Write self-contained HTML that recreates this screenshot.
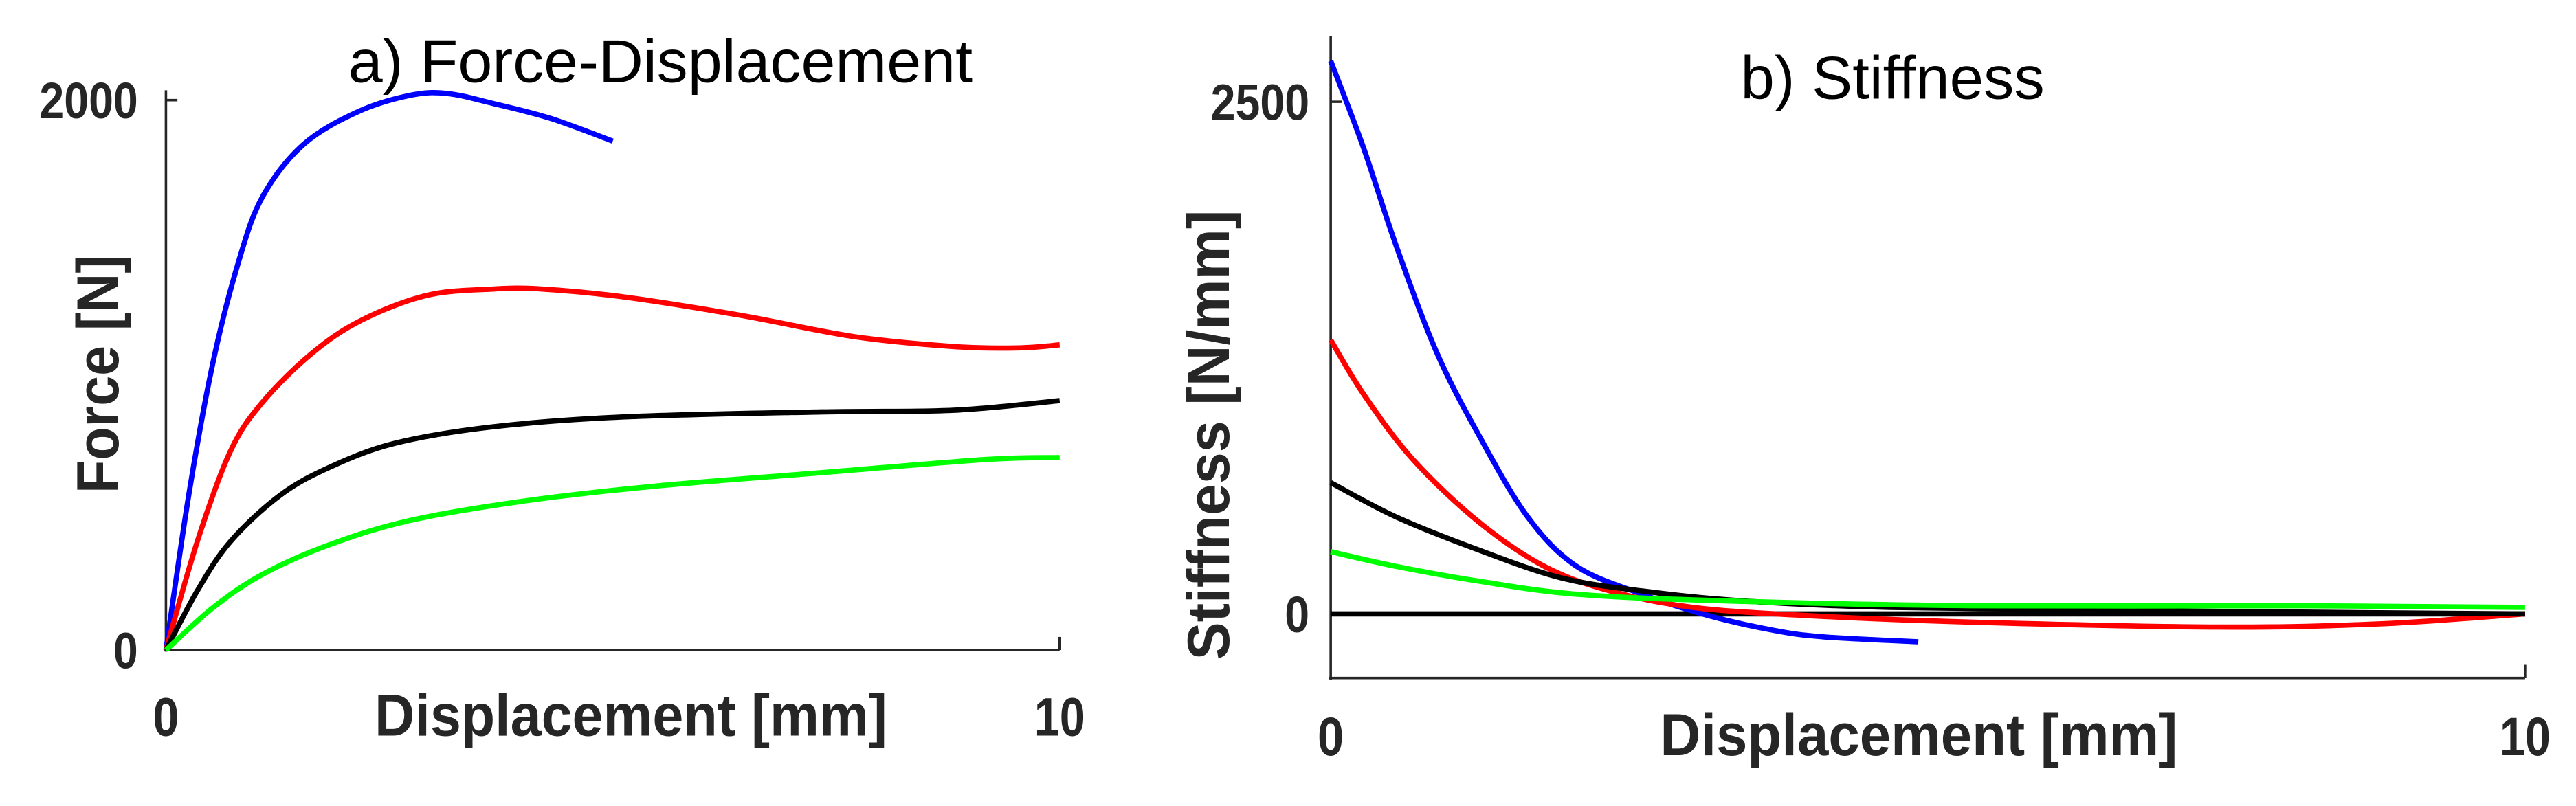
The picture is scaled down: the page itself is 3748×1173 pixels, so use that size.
<!DOCTYPE html>
<html><head><meta charset="utf-8"><style>
html,body{margin:0;padding:0;background:#fff;}
svg{display:block;}
text{font-family:"Liberation Sans",sans-serif;fill:#262626;}
</style></head><body>
<svg id="fig" width="3748" height="1173" viewBox="0 0 1568 491" preserveAspectRatio="none" xmlns="http://www.w3.org/2000/svg">
<g id="left"></g>
<g id="right"></g>
</svg>
<script>
// Panel a) Force-Displacement (x in mm, y in N)
const aBlueX=[0,0.26,0.53,0.81,1.08,1.54,2.15,2.74,3.15,3.66,4.30,5.0];
const aBlueY=[0,573,1051,1409,1648,1839,1958,2018,2024,1988,1934,1851];
const aRedX=[0,0.35,0.72,1.08,1.64,2.19,2.92,3.66,4.21,5.13,6.42,7.70,8.81,9.54,10];
const aRedY=[0,394,722,901,1081,1200,1290,1313,1313,1284,1218,1140,1104,1099,1110];
const aBlackX=[0,0.35,0.72,1.27,1.82,2.56,3.66,5.13,7.33,8.81,10];
const aBlackY=[0,215,394,561,663,752,812,848,866,872,907];
const aGreenX=[0,0.53,1.08,1.82,2.74,4.03,5.5,7.33,9.17,10];
const aGreenY=[0,155,275,382,472,543,597,645,693,700];
// Panel b) Stiffness (x in mm, y in N/mm)
const bBlueX=[0,0.275,0.55,0.89,1.24,1.65,2.06,2.61,3.16,3.71,4.13,4.92];
const bBlueY=[2700,2275,1794,1273,873,473,232,96,-8,-80,-112,-136];
const bRedX=[0,0.275,0.69,1.24,1.79,2.34,3.03,3.99,5.36,7.43,8.8,10];
const bRedY=[1338,1073,753,449,232,112,32,-8,-40,-64,-48,0];
const bBlackX=[0,0.55,1.24,1.93,2.61,3.44,4.68,6.74,10];
const bBlackY=[641,473,312,176,112,64,32,16,0];
const bGreenX=[0,0.55,1.24,2.06,3.3,5.36,8.11,10];
const bGreenY=[304,232,160,96,64,40,40,32];
const aYTicks=[0,2000];
const bYTicks=[0,2500];
const xTicks=[0,10];

const NS="http://www.w3.org/2000/svg";
function mk(parent,tag,attrs){const e=document.createElementNS(NS,tag);for(const k in attrs)e.setAttribute(k,attrs[k]);parent.appendChild(e);return e;}
function smooth(pts){let d="M"+pts[0][0]+","+pts[0][1];for(let i=0;i<pts.length-1;i++){const p0=pts[Math.max(0,i-1)],p1=pts[i],p2=pts[i+1],p3=pts[Math.min(pts.length-1,i+2)];
const c1x=p1[0]+(p2[0]-p0[0])/6,c1y=p1[1]+(p2[1]-p0[1])/6,c2x=p2[0]-(p3[0]-p1[0])/6,c2y=p2[1]-(p3[1]-p1[1])/6;
d+=" C"+c1x+","+c1y+" "+c2x+","+c2y+" "+p2[0]+","+p2[1];}return d;}
function tickLen(t){return String(t).length*15;}

// Panel a
const L=document.getElementById('left');
const ax=v=>101+v*(645-101)/10, ay=v=>396-v*(396-61)/2000;
let e;
e=mk(L,'line',{x1:101,y1:55,x2:101,y2:397,stroke:'#262626','stroke-width':1.5});


e=mk(L,'line',{x1:100,y1:396,x2:645,y2:396,stroke:'#262626','stroke-width':1.5});


mk(L,'line',{x1:645,y1:388,x2:645,y2:396,stroke:'#262626','stroke-width':1.5});
mk(L,'line',{x1:101,y1:ay(2000),x2:108,y2:ay(2000),stroke:'#262626','stroke-width':1.5});
aYTicks.forEach(t=>{e=mk(L,'text',{x:84,y:ay(t)+11,'text-anchor':'end','font-size':31,'font-weight':'bold',textLength:tickLen(t),lengthAdjust:'spacingAndGlyphs'});e.textContent=t;

});
xTicks.forEach(t=>{e=mk(L,'text',{x:ax(t),y:448,'text-anchor':'middle','font-size':33,'font-weight':'bold',textLength:tickLen(t)+1,lengthAdjust:'spacingAndGlyphs'});e.textContent=t;

});
e=mk(L,'text',{x:384,y:448,'text-anchor':'middle','font-size':36,'font-weight':'bold',textLength:312,lengthAdjust:'spacingAndGlyphs'});e.textContent='Displacement [mm]';


e=mk(L,'text',{x:0,y:0,'text-anchor':'middle','font-size':36,'font-weight':'bold',textLength:145,lengthAdjust:'spacingAndGlyphs',transform:'translate(72,228) rotate(-90)'});e.textContent='Force [N]';


e=mk(L,'text',{x:402,y:50,'text-anchor':'middle','font-size':37,style:'fill:#000',textLength:380,lengthAdjust:'spacingAndGlyphs'});e.textContent='a) Force-Displacement';


[[aBlueX,aBlueY,'#0000ff','blue'],[aRedX,aRedY,'#ff0000','red'],[aBlackX,aBlackY,'#000000','black'],[aGreenX,aGreenY,'#00ff00','green']].forEach(s=>{
const p=s[0].map((x,i)=>[ax(x),ay(s[1][i])]);
e=mk(L,'path',{d:smooth(p),fill:'none',stroke:s[2],'stroke-width':3.2});

});

// Panel b
const R=document.getElementById('right');
const bx=v=>810+v*(1537-810)/10, by=v=>374-v*(374-62)/2500;
e=mk(R,'line',{x1:810,y1:22,x2:810,y2:414,stroke:'#262626','stroke-width':1.5});


e=mk(R,'line',{x1:809,y1:413,x2:1537,y2:413,stroke:'#262626','stroke-width':1.5});


mk(R,'line',{x1:1537,y1:405,x2:1537,y2:413,stroke:'#262626','stroke-width':1.5});
mk(R,'line',{x1:810,y1:by(2500),x2:817,y2:by(2500),stroke:'#262626','stroke-width':1.5});
bYTicks.forEach(t=>{e=mk(R,'text',{x:797,y:by(t)+11,'text-anchor':'end','font-size':31,'font-weight':'bold',textLength:tickLen(t),lengthAdjust:'spacingAndGlyphs'});e.textContent=t;

});
xTicks.forEach(t=>{e=mk(R,'text',{x:bx(t),y:460,'text-anchor':'middle','font-size':33,'font-weight':'bold',textLength:tickLen(t)+1,lengthAdjust:'spacingAndGlyphs'});e.textContent=t;

});
e=mk(R,'text',{x:1168,y:460,'text-anchor':'middle','font-size':36,'font-weight':'bold',textLength:315,lengthAdjust:'spacingAndGlyphs'});e.textContent='Displacement [mm]';


e=mk(R,'text',{x:0,y:0,'text-anchor':'middle','font-size':36,'font-weight':'bold',textLength:274,lengthAdjust:'spacingAndGlyphs',transform:'translate(748,265) rotate(-90)'});e.textContent='Stiffness [N/mm]';


e=mk(R,'text',{x:1152,y:60,'text-anchor':'middle','font-size':37,style:'fill:#000',textLength:185,lengthAdjust:'spacingAndGlyphs'});e.textContent='b) Stiffness';


e=mk(R,'line',{x1:bx(0),y1:by(0),x2:bx(10),y2:by(0),stroke:'#000','stroke-width':3.2});


[[bBlueX,bBlueY,'#0000ff','blue'],[bRedX,bRedY,'#ff0000','red'],[bBlackX,bBlackY,'#000000','black'],[bGreenX,bGreenY,'#00ff00','green']].forEach(s=>{
const p=s[0].map((x,i)=>[bx(x),by(s[1][i])]);
e=mk(R,'path',{d:smooth(p),fill:'none',stroke:s[2],'stroke-width':3.2});

});
</script>
</body></html>
